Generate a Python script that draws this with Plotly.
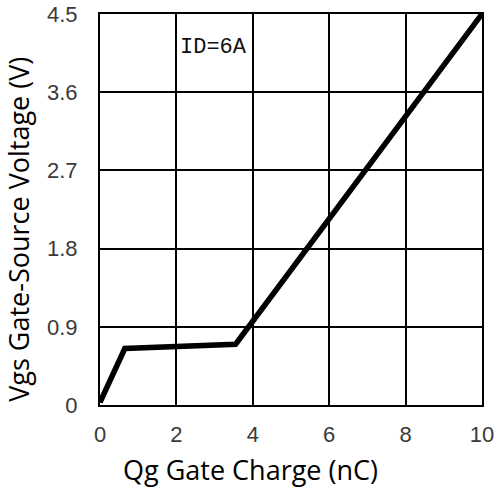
import plotly.graph_objects as go

qg = [0.0, 0.65, 3.55, 10.0]
vgs = [0.03, 0.65, 0.70, 4.5]
x_ticks = [0, 2, 4, 6, 8, 10]
y_ticks = [0, 0.9, 1.8, 2.7, 3.6, 4.5]
y_tick_text = ["0", "0.9", "1.8", "2.7", "3.6", "4.5"]

fig = go.Figure()
fig.add_trace(go.Scatter(x=qg, y=vgs, mode="lines",
                         line=dict(color="black", width=5.5), showlegend=False))

fig.add_annotation(x=2.05, y=4.12, text="ID=6A", showarrow=False, xanchor="left",
                   font=dict(family="Liberation Mono", size=22, color="#111"))

title_font = dict(family="Open Sans", size=27, color="black")
fig.add_annotation(xref="paper", yref="paper", x=0.393, y=-0.166,
                   text="Qg Gate Charge (nC)", showarrow=False,
                   xanchor="center", yanchor="middle", font=title_font)
fig.add_annotation(xref="paper", yref="paper", x=-0.212, y=0.448,
                   text="Vgs Gate-Source Voltage (V)", showarrow=False, textangle=-90,
                   xanchor="center", yanchor="middle", font=title_font)

axis_common = dict(showgrid=True, gridcolor="black", gridwidth=1.8,
                   showline=True, linecolor="black", linewidth=2, mirror=True,
                   zeroline=False, ticks="", automargin=False, ticklabeloverflow="allow",
                   tickfont=dict(family="Liberation Sans, Arial", size=22, color="#3a3a3a"))

fig.update_xaxes(range=[0, 10], tickvals=x_ticks, ticklabelstandoff=9, **axis_common)
fig.update_yaxes(range=[0, 4.5], tickvals=y_ticks, ticktext=y_tick_text,
                 ticklabelstandoff=16, **axis_common)

fig.update_layout(width=494, height=488, margin=dict(l=100, r=12, t=14, b=83),
                  plot_bgcolor="white", paper_bgcolor="white")
fig.write_html("out.html")
